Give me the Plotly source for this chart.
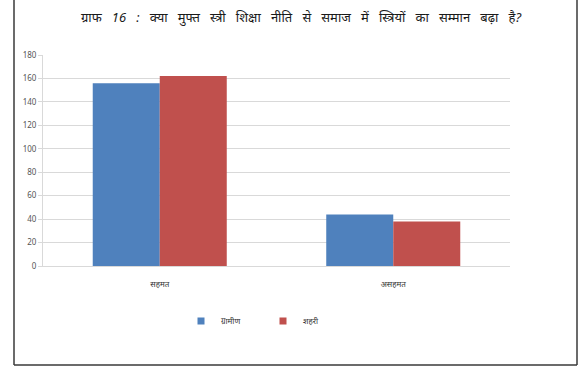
import plotly.graph_objects as go

# Survey responses: does free women's education policy raise women's respect in society?
categories = ["सहमत", "असहमत"]
rural = [156, 44]
urban = [162, 38]
series_names = ["ग्रामीण", "शहरी"]
series_colors = ["#4F81BD", "#C0504D"]
y_ticks = [0, 20, 40, 60, 80, 100, 120, 140, 160, 180]
title_words = ["ग्राफ", "16", ":", "क्या", "मुफ्त", "स्त्री", "शिक्षा", "नीति", "से",
               "समाज", "में", "स्त्रियों", "का", "सम्मान", "बढ़ा", "है?"]

W, H = 588, 367
L, R, T, B = 43, 78, 55, 101
pw, ph = W - L - R, H - T - B

fig = go.Figure()
for name, vals, col in zip(series_names, [rural, urban], series_colors):
    fig.add_trace(go.Bar(x=categories, y=vals, name=name, showlegend=False,
                         marker=dict(color=col, line=dict(width=0))))
    # small square legend keys
    fig.add_trace(go.Scatter(x=[None], y=[None], mode="markers", name=name,
                             marker=dict(symbol="square", size=7, color=col)))

def px_x(x):
    return (x - L) / pw

def px_y(y):
    return (H - B - y) / ph

frame = dict(type="line", xref="paper", yref="paper",
             line=dict(color="#3a3a3a", width=1.5))
shapes = [
    dict(frame, x0=px_x(14), x1=px_x(14), y0=px_y(0), y1=px_y(365)),
    dict(frame, x0=px_x(577), x1=px_x(577), y0=px_y(0), y1=px_y(365)),
    dict(frame, x0=px_x(14), x1=px_x(577), y0=px_y(365), y1=px_y(365)),
]

title_text = "\u00a0\u00a0\u00a0".join(title_words)

fig.update_layout(
    width=W, height=H,
    margin=dict(l=L, r=R, t=T, b=B),
    paper_bgcolor="white", plot_bgcolor="white",
    barmode="group", bargap=0.426, bargroupgap=0,
    font=dict(family="Noto Sans, DejaVu Sans, sans-serif", color="#404040"),
    title=dict(text="<i>" + title_text + "</i>", x=301 / W, xanchor="center",
               y=1 - 17 / H, yanchor="middle",
               font=dict(size=13, color="#1a1a1a")),
    showlegend=True,
    legend=dict(orientation="h", x=px_x(181), xanchor="left",
                y=px_y(321), yanchor="middle",
                font=dict(size=8, color="#333333"),
                itemwidth=30, entrywidth=37, bgcolor="rgba(0,0,0,0)"),
    shapes=shapes,
)
fig.update_yaxes(range=[0, 180], tickvals=y_ticks, showgrid=True,
                 gridcolor="#d9d9d9", gridwidth=1, zeroline=False,
                 showline=True, linecolor="#d9d9d9", linewidth=1,
                 ticks="outside", ticklen=4, tickcolor="#d9d9d9",
                 tickfont=dict(size=8, color="#555555"))
fig.update_xaxes(showline=True, linecolor="#d9d9d9", linewidth=1,
                 ticks="", ticklabelstandoff=10,
                 tickfont=dict(size=8, color="#333333"))

fig.write_html("out.html")
